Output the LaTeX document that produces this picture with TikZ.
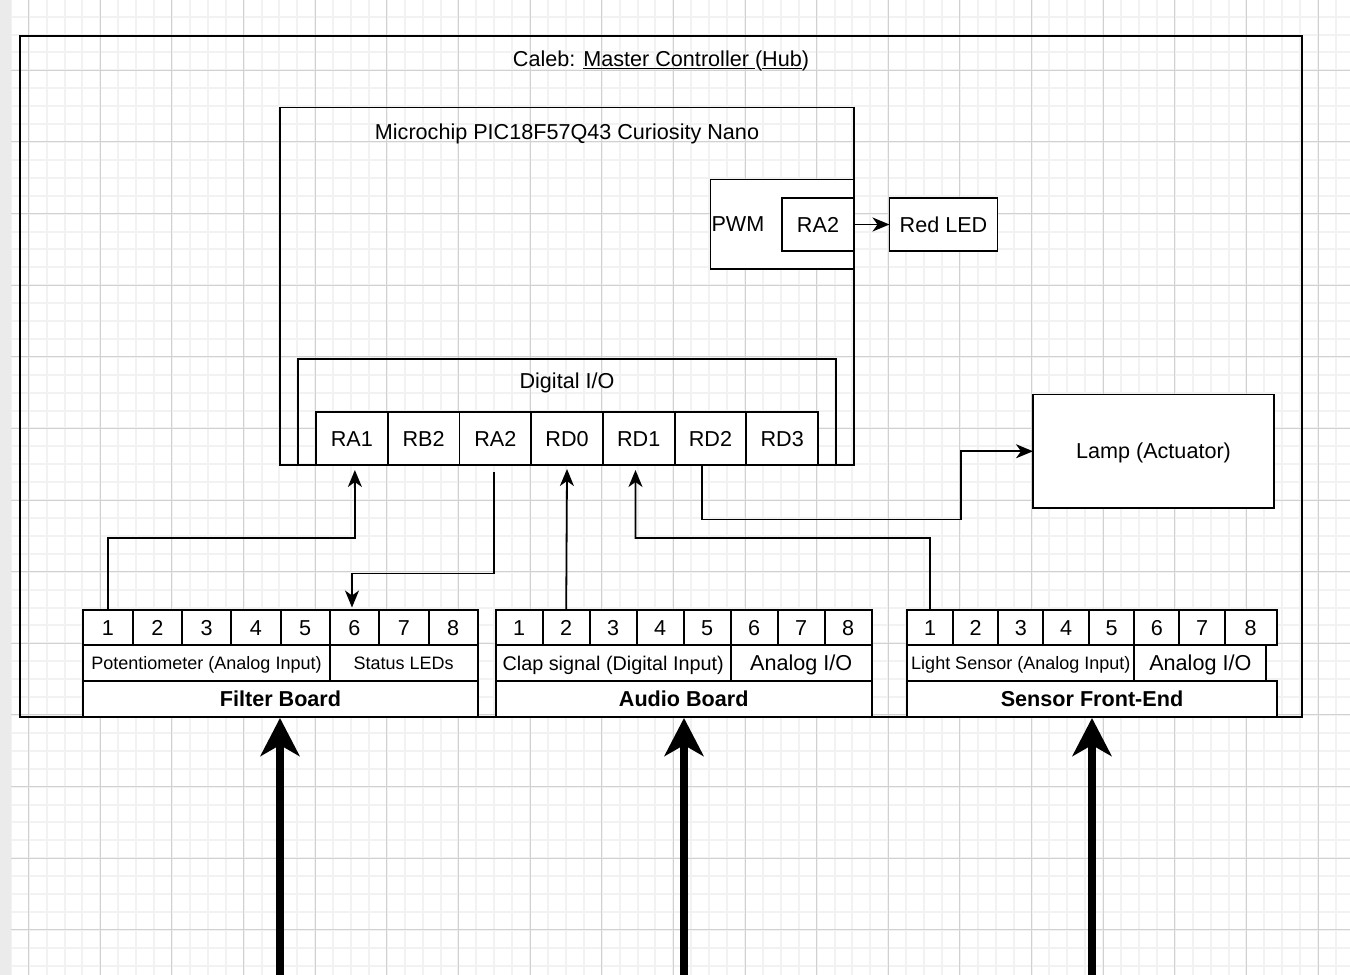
\documentclass[tikz,border=0pt]{standalone}
\usepackage{fontspec}
\setmainfont{Liberation Sans}
\usetikzlibrary{arrows.meta}
\tikzset{
  minorgrid/.style={line width=2pt, color=black!5},
  majorgrid/.style={line width=1pt, color=black!18},
  frame/.style={draw, line width=1.8pt, inner sep=0pt, outer sep=0pt},
  cell/.style={draw, line width=1.8pt, fill=white, inner sep=0pt, outer sep=0pt, text=black},
  plain/.style={inner sep=0pt, outer sep=0pt, text=black},
  ftw/.style={font=\fontsize{21.6}{26}\selectfont, text height=15.47pt, text depth=0pt},
  ftwb/.style={font=\fontsize{21.6}{26}\selectfont\bfseries, text height=15.47pt, text depth=0pt},
  ften/.style={font=\fontsize{18}{22}\selectfont, text height=12.9pt, text depth=0pt},
  felv/.style={font=\fontsize{19.8}{24}\selectfont, text height=14.18pt, text depth=0pt},
  conn/.style={line width=1.8pt, -{Stealth[length=17pt,width=14pt,inset=5pt]}},
  bigarrow/.style={line width=7.5pt, -{Stealth[length=38pt,width=39pt,inset=11pt]}},
}
\begin{document}
\begin{tikzpicture}[x=1pt,y=-1pt]
\useasboundingbox (0,0) rectangle (1350,975);
\clip (0,0) rectangle (1350,975);
\fill[white] (0,0) rectangle (1350,975);
% grid
\foreach \i in {-1,...,75} {\draw[minorgrid] ({28.7+17.908*\i},0) -- ++(0,975);}
\foreach \i in {0,...,55} {\draw[minorgrid] (0,{-1.3+17.908*\i}) -- ++(1350,0);}
\foreach \i in {0,...,18} {\draw[majorgrid] ({28.7+71.63*\i},0) -- ++(0,975);}
\foreach \i in {-1,...,13} {\draw[majorgrid] (0,{70.3+71.63*\i}) -- ++(1350,0);}
\fill[black!8] (0,0) rectangle (11,975);

% hub
\node[frame, minimum width=1282pt, minimum height=680.7pt] (hub) at (661,376.35) {};
\node[plain, ftw] (hubtitle) at (661,59.2) {Caleb: \underline{Master Controller }(\underline{Hub})};

% microcontroller
\node[frame, minimum width=574pt, minimum height=357.5pt] (mcu) at (567,286.25) {};
\node[plain, ftw] (mcutitle) at (567,131.3) {Microchip PIC18F57Q43 Curiosity Nano};
\node[cell, minimum width=143.5pt, minimum height=89.5pt] (pwm) at (782.25,224.25) {};
\node[plain, ftw, anchor=west] (pwmtext) at (711.5,223.5) {PWM};
\node[cell, ftw, minimum width=72pt, minimum height=53pt] (pwmra2) at (818,224.5) {RA2};
\node[cell, ftw, minimum width=108pt, minimum height=53pt] (redled) at (943.5,224.5) {Red LED};

\node[frame, minimum width=538pt, minimum height=106pt] (dio) at (567,412) {};
\node[plain, ftw] (diotitle) at (567,381) {Digital I/O};
\foreach \n [count=\i from 0] in {RA1,RB2,RA2,RD0,RD1,RD2,RD3} {
  \node[cell, ftw, minimum width=71.72pt, minimum height=53pt] (p\n) at ({351.86+71.72*\i},438.5) {\n};
}

% lamp
\node[cell, ftw, minimum width=241pt, minimum height=113.5pt] (lamp) at (1153.5,451.25) {Lamp (Actuator)};

% filter board
\foreach \l/\r [count=\k] in {83.3/132.7,132.7/182,182/231.3,231.3/280.7,280.7/329.7,329.7/379.3,379.3/428.7,428.7/477.7} {
  \node[cell, ftw, minimum width={(\r-\l)*1pt}, minimum height=35.3pt] (f\k) at ({(\l+\r)/2},627.65) {\k};
}
\node[cell, ften, minimum width=246.4pt, minimum height=35.7pt] (fpot) at (206.5,663.15) {Potentiometer (Analog Input)};
\node[cell, ften, minimum width=148pt, minimum height=35.7pt] (fled) at (403.7,663.15) {Status LEDs};
\node[cell, ftwb, minimum width=394.4pt, minimum height=35.7pt] (ftitle) at (280.5,698.85) {Filter Board};

% audio board
\foreach \l/\r [count=\k] in {495.7/542.7,542.7/589.7,589.7/636.7,636.7/683.7,683.7/730.7,730.7/777.7,777.7/824.7,824.7/871.7} {
  \node[cell, ftw, minimum width={(\r-\l)*1pt}, minimum height=35.3pt] (a\k) at ({(\l+\r)/2},627.65) {\k};
}
\node[cell, felv, minimum width=235pt, minimum height=35.7pt] (aclap) at (613.2,663.15) {Clap signal (Digital Input)};
\node[cell, ftw, minimum width=141pt, minimum height=35.7pt] (aio) at (801.2,663.15) {Analog I/O};
\node[cell, ftwb, minimum width=376pt, minimum height=35.7pt] (atitle) at (683.7,698.85) {Audio Board};

% sensor board
\foreach \l/\r [count=\k] in {907.3/952.7,952.7/998.3,998.3/1043.3,1043.3/1089,1089/1134.3,1134.3/1179.3,1179.3/1224.7,1224.7/1276.7} {
  \node[cell, ftw, minimum width={(\r-\l)*1pt}, minimum height=35.3pt] (s\k) at ({(\l+\r)/2},627.65) {\k};
}
\node[cell, ften, minimum width=227pt, minimum height=35.7pt] (slight) at (1020.8,663.15) {Light Sensor (Analog Input)};
\node[cell, ftw, minimum width=132pt, minimum height=35.7pt] (sio) at (1200.3,663.15) {Analog I/O};
\node[cell, ftwb, minimum width=369.4pt, minimum height=35.7pt] (stitle) at (1092,698.85) {Sensor Front-End};

% connectors
\draw[conn] (pwmra2.east) -- (redled.west);
\draw[conn] (f1.north) |- (355,538) -- ([xshift=3pt,yshift=-5pt]pRA1.south);
\draw[conn] ([xshift=-1.25pt,yshift=-7pt]pRA2.south) |- (352,573.5) -- ([xshift=-2.5pt,yshift=2.5pt]f6.north);
\draw[conn] (a2.north) -- ([yshift=-4pt]pRD0.south);
\draw[conn] (s1.north) |- (635.5,538) -- ([xshift=-3.25pt,yshift=-5pt]pRD1.south);
\draw[conn] ([xshift=-8.8pt]pRD2.south) |- (961,519.5) |- (lamp.west);

% external inputs
\coordinate (fin) at (280,985);
\coordinate (ain) at (684,985);
\coordinate (sin) at (1092,985);
\draw[bigarrow] (fin) -- ([xshift=-0.5pt,yshift=-1.3pt]ftitle.south);
\draw[bigarrow] (ain) -- ([xshift=0.3pt,yshift=-1.3pt]atitle.south);
\draw[bigarrow] (sin) -- ([yshift=-1.3pt]stitle.south);
\end{tikzpicture}
\end{document}
